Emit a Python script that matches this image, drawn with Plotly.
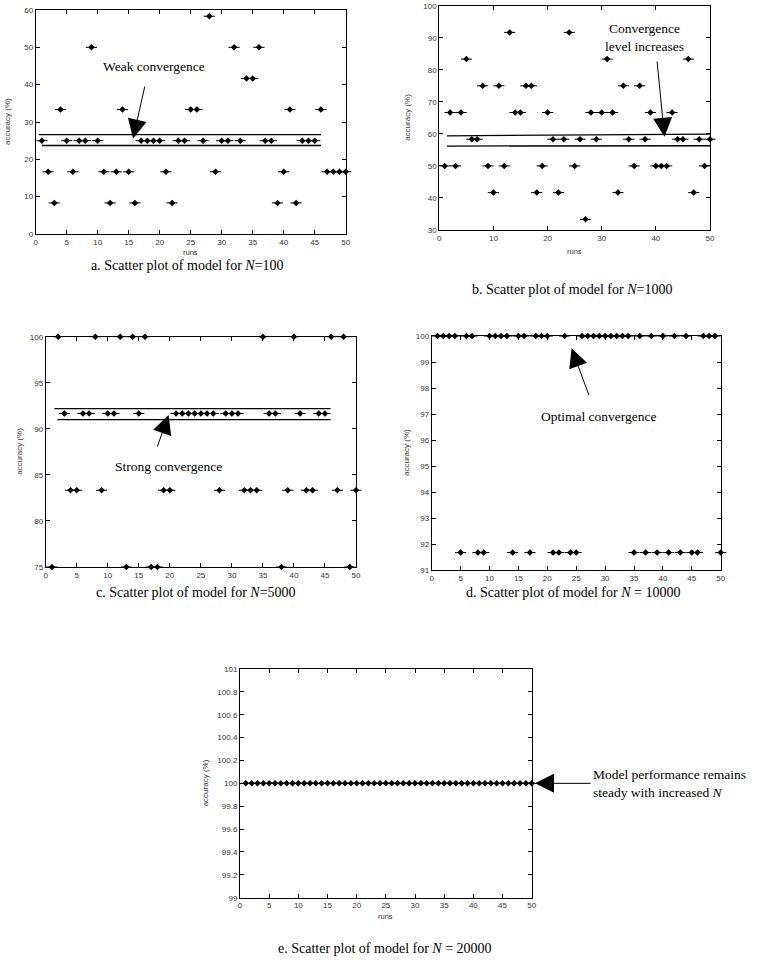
import plotly.graph_objects as go

W, H = 758, 965

runs = list(range(1, 51))

acc_n100 = [25, 16.67, 8.33, 33.33, 25, 16.67, 25, 25, 50, 25,
            16.67, 8.33, 16.67, 33.33, 16.67, 8.33, 25, 25, 25, 25,
            16.67, 8.33, 25, 25, 33.33, 33.33, 25, 58.33, 16.67, 25,
            25, 50, 25, 41.67, 41.67, 50, 25, 25, 8.33, 16.67,
            33.33, 8.33, 25, 25, 25, 33.33, 16.67, 16.67, 16.67, 16.67]

acc_n1000 = [50, 66.67, 50, 66.67, 83.33, 58.33, 58.33, 75, 50, 41.67,
             75, 50, 91.67, 66.67, 66.67, 75, 75, 41.67, 50, 66.67,
             58.33, 41.67, 58.33, 91.67, 50, 58.33, 33.33, 66.67, 58.33, 66.67,
             83.33, 66.67, 41.67, 75, 58.33, 50, 75, 58.33, 66.67, 50,
             50, 50, 66.67, 58.33, 58.33, 83.33, 41.67, 58.33, 50, 58.33]

acc_n5000 = [75, 100, 91.67, 83.33, 83.33, 91.67, 91.67, 100, 83.33, 91.67,
             91.67, 100, 75, 100, 91.67, 100, 75, 75, 83.33, 83.33,
             91.67, 91.67, 91.67, 91.67, 91.67, 91.67, 91.67, 83.33, 91.67, 91.67,
             91.67, 83.33, 83.33, 83.33, 100, 91.67, 91.67, 75, 83.33, 100,
             91.67, 83.33, 83.33, 91.67, 91.67, 100, 83.33, 100, 75, 83.33]

acc_n10000 = [100, 100, 100, 100, 91.67, 100, 100, 91.67, 91.67, 100,
              100, 100, 100, 91.67, 100, 100, 91.67, 100, 100, 100,
              91.67, 91.67, 100, 91.67, 91.67, 100, 100, 100, 100, 100,
              100, 100, 100, 100, 91.67, 100, 91.67, 100, 91.67, 100,
              91.67, 100, 91.67, 100, 91.67, 91.67, 100, 100, 100, 91.67]

acc_n20000 = [100, 100, 100, 100, 100, 100, 100, 100, 100, 100,
              100, 100, 100, 100, 100, 100, 100, 100, 100, 100,
              100, 100, 100, 100, 100, 100, 100, 100, 100, 100,
              100, 100, 100, 100, 100, 100, 100, 100, 100, 100,
              100, 100, 100, 100, 100, 100, 100, 100, 100, 100]

# convergence band lines: (x pair, y pair)
band_a = [([0.5, 46], [26.6, 26.6]), ([1.0, 46], [23.7, 23.7])]
band_b = [([1.4, 50], [59.4, 59.9]), ([1.4, 50], [56.2, 56.3])]
band_c = [([1.4, 45.9], [92.2, 92.2]), ([1.9, 45.9], [91.0, 91.0])]

captions = [
    "a. Scatter plot of model for <i>N</i>=100",
    "b. Scatter plot of model for <i>N</i>=1000",
    "c. Scatter plot of model for <i>N</i>=5000",
    "d. Scatter plot of model for <i>N</i> = 10000",
    "e. Scatter plot of model for <i>N</i> = 20000",
]

def px(x):
    return x / W

def py(y):
    return 1 - y / H

# plot boxes in pixels: (left, right, top, bottom)
boxes = [
    (35.7, 345.7, 10.0, 234.0),
    (439.3, 710.0, 5.7, 230.0),
    (45.7, 356.0, 336.7, 567.0),
    (431.7, 720.7, 336.0, 570.0),
    (240.0, 531.7, 669.0, 897.7),
]
yranges = [(0, 60), (30, 100), (75, 100), (91, 100), (99, 101)]
ydticks = [10, 10, 5, 1, 0.2]
xdticks = [5, 10, 5, 5, 5]
series = [acc_n100, acc_n1000, acc_n5000, acc_n10000, acc_n20000]

fig = go.Figure()
tickfont = dict(family="Liberation Sans, Arial, sans-serif", size=8, color="#333")
serif_cap = dict(family="Liberation Serif, Times New Roman, serif", size=14, color="black")
serif_note = dict(family="Liberation Serif, Times New Roman, serif", size=13.5, color="black")

layout = dict(width=W, height=H, margin=dict(l=0, r=0, t=0, b=0),
              paper_bgcolor="white", plot_bgcolor="white", showlegend=False)

for i, (box, yr, vals) in enumerate(zip(boxes, yranges, series)):
    n = i + 1
    xa = "x" if n == 1 else f"x{n}"
    ya = "y" if n == 1 else f"y{n}"
    l, r, t, b = box
    common = dict(showline=True, linecolor="black", linewidth=1, mirror="ticks",
                  ticks="inside", ticklen=4, tickcolor="black", tickwidth=1,
                  showgrid=False, zeroline=False, tickfont=tickfont, automargin=False)
    layout["xaxis" if n == 1 else f"xaxis{n}"] = dict(
        domain=[px(l), px(r)], range=[0, 50], dtick=xdticks[i], tick0=0,
        anchor=ya, **common)
    layout["yaxis" if n == 1 else f"yaxis{n}"] = dict(
        domain=[py(b), py(t)], range=list(yr), dtick=ydticks[i], tick0=yr[0],
        anchor=xa, **common)
    fig.add_trace(go.Scatter(x=runs, y=vals, mode="markers", xaxis=xa, yaxis=ya,
                             cliponaxis=False,
                             marker=dict(symbol="line-ew", size=8,
                                         line=dict(width=1, color="black"))))
    fig.add_trace(go.Scatter(x=runs, y=vals, mode="markers", xaxis=xa, yaxis=ya,
                             cliponaxis=False,
                             marker=dict(symbol="diamond", size=5, color="black",
                                         line=dict(width=0))))

for n, band in [(1, band_a), (2, band_b), (3, band_c)]:
    xa = "x" if n == 1 else f"x{n}"
    ya = "y" if n == 1 else f"y{n}"
    for bx, by in band:
        fig.add_trace(go.Scatter(x=bx, y=by, mode="lines", xaxis=xa, yaxis=ya,
                                 line=dict(color="black", width=1.3)))

fig.update_layout(**layout)

ann = []
# axis titles and captions
ylab_x = [8, 408, 20, 406, 205]
xlab_y = [252, 251, None, None, 916]
cap_pos = [(187, 265), (572, 290), (196, 592), (573, 592), (385, 948)]
for i, box in enumerate(boxes):
    l, r, t, b = box
    ann.append(dict(text="accuracy (%)", x=px(ylab_x[i]), y=py((t + b) / 2), xref="paper",
                    yref="paper", showarrow=False, textangle=-90, font=tickfont,
                    xanchor="center", yanchor="middle"))
    if xlab_y[i] is not None:
        ann.append(dict(text="runs", x=px((l + r) / 2), y=py(xlab_y[i]), xref="paper",
                        yref="paper", showarrow=False, font=dict(tickfont, size=7.5),
                        xanchor="center", yanchor="middle"))
    ann.append(dict(text=captions[i], x=px(cap_pos[i][0]), y=py(cap_pos[i][1]),
                    xref="paper", yref="paper", showarrow=False, font=serif_cap,
                    xanchor="center", yanchor="middle"))

# in-plot notes
notes = [
    ("x", "y", "Weak convergence", 19.0, 44.8, "center"),
    ("x2", "y2", "Convergence<br>level increases", 37.9, 90.1, "center"),
    ("x3", "y3", "Strong convergence", 19.8, 85.9, "center"),
    ("x4", "y4", "Optimal convergence", 28.9, 96.9, "center"),
]
for xa, ya, txt, x, y, anc in notes:
    ann.append(dict(text=txt, x=x, y=y, xref=xa, yref=ya, showarrow=False, font=serif_note,
                    xanchor=anc, yanchor="middle", align=anc))

# note for panel e, placed outside the axes (right side)
ann.append(dict(text="Model performance remains<br>steady with increased <i>N</i>",
                x=px(591), y=100.0, xref="paper", yref="y5", showarrow=False,
                font=serif_note, xanchor="left", yanchor="middle", align="left"))
ann.append(dict(text="", x=px(535), y=100.0, xref="paper", yref="y5",
                ax=57, ay=0, axref="pixel", ayref="pixel",
                showarrow=True, arrowhead=2, arrowsize=3.8, arrowwidth=1,
                arrowcolor="black", standoff=0))

arrows = [
    ("x", "y", 15.7, 25.6, 17.65, 39.9),
    ("x2", "y2", 41.6, 59.1, 40.2, 83.05),
    ("x3", "y3", 19.8, 91.5, 17.9, 87.9),
    ("x4", "y4", 24.2, 99.53, 27.3, 97.67),
]
for xa, ya, x, y, ax, ay in arrows:
    ann.append(dict(text="", x=x, y=y, ax=ax, ay=ay, xref=xa, yref=ya, axref=xa, ayref=ya,
                    showarrow=True, arrowhead=2, arrowsize=3.8, arrowwidth=1,
                    arrowcolor="black", standoff=0))

fig.update_layout(annotations=ann)
fig.write_html("out.html")
